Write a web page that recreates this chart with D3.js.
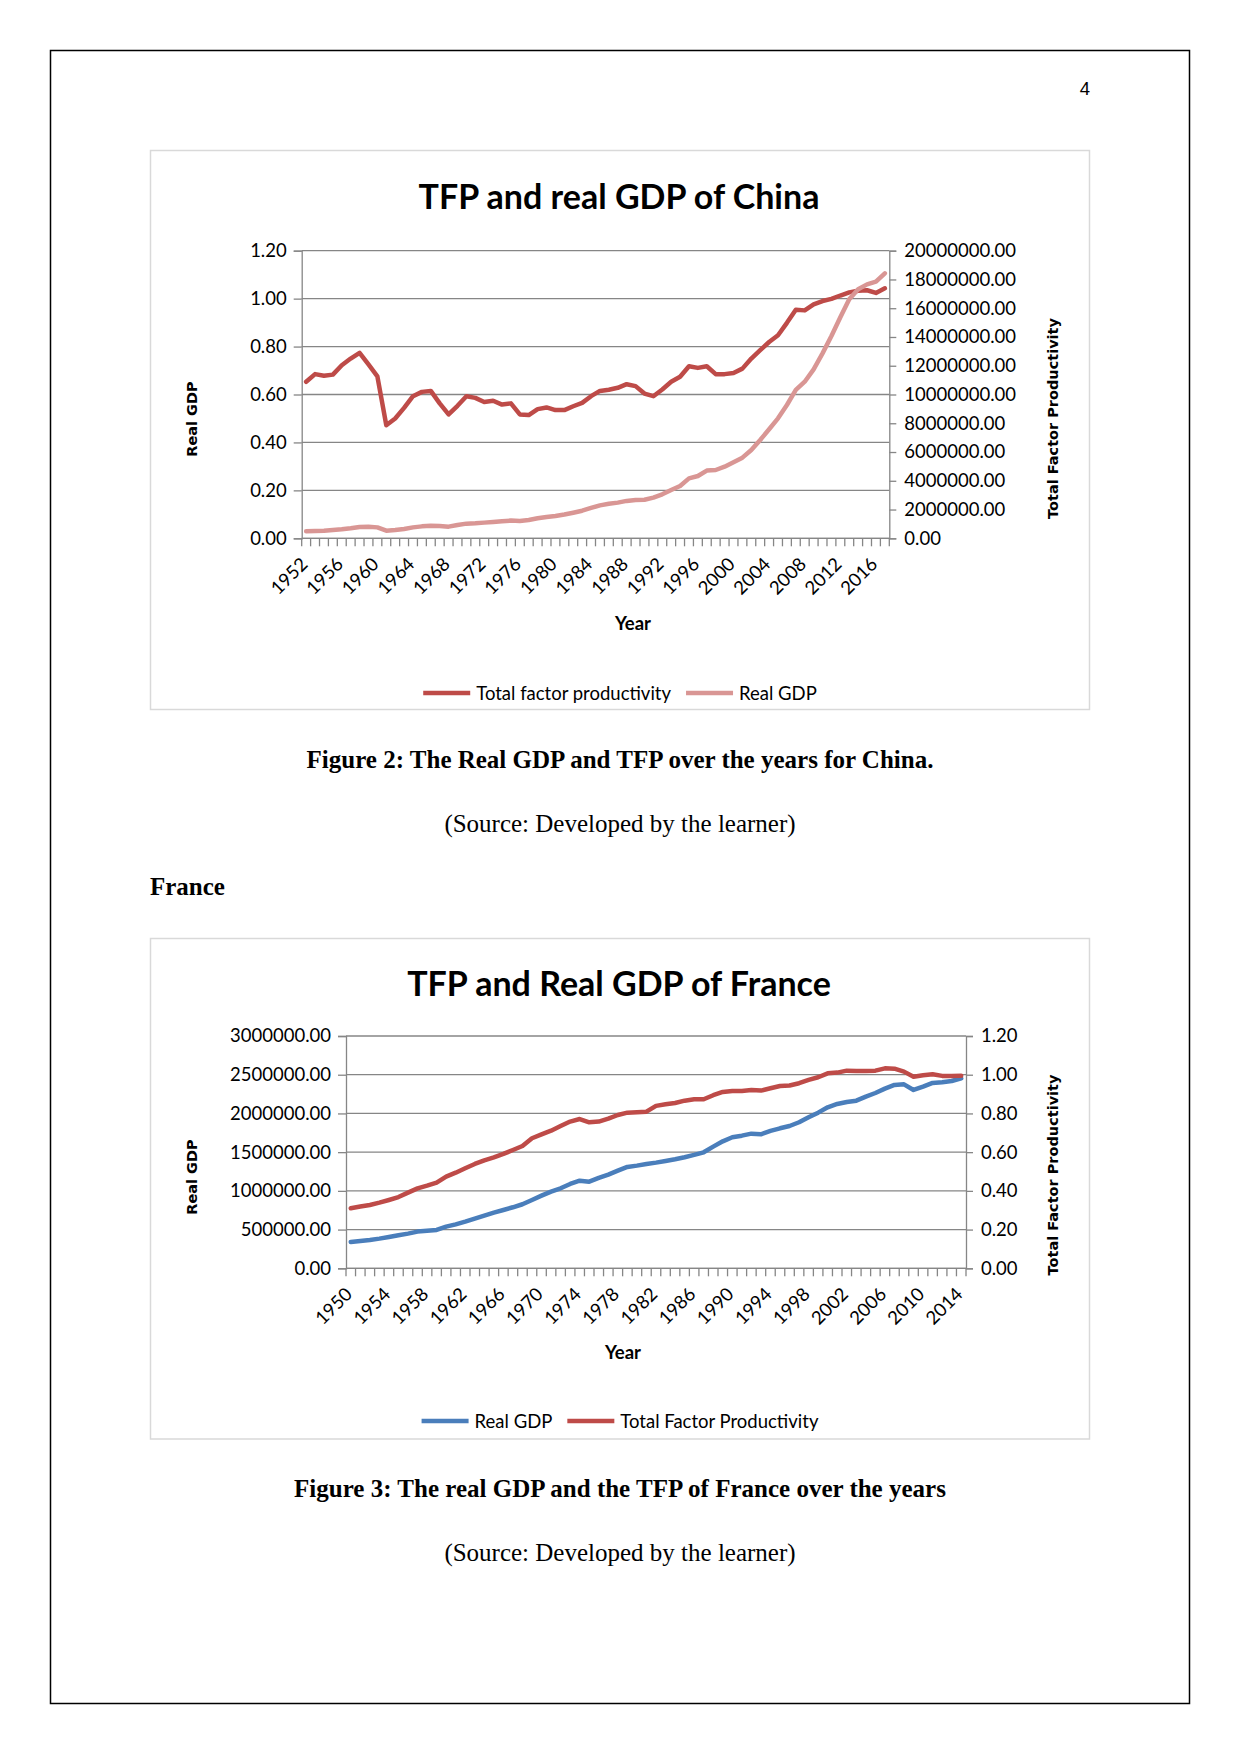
<!DOCTYPE html>
<html>
<head>
<meta charset="utf-8">
<script src="https://cdn.jsdelivr.net/npm/d3@7"></script>
<style>
  html, body { margin: 0; padding: 0; background: #fff; }
  svg { display: block; }
</style>
</head>
<body>
<script>
// ---------------- DATA ----------------
// China, 1952-2017
const chinaYears = d3.range(1952, 2018);
const chinaTFP = [0.653,0.685,0.678,0.683,0.722,0.750,0.774,0.726,0.676,0.472,0.500,0.544,0.593,0.611,0.615,0.563,0.517,0.553,0.593,0.586,0.569,0.574,0.558,0.563,0.517,0.514,0.539,0.546,0.535,0.535,0.551,0.565,0.593,0.615,0.620,0.628,0.643,0.635,0.604,0.593,0.621,0.653,0.674,0.718,0.711,0.718,0.685,0.685,0.690,0.708,0.750,0.785,0.819,0.847,0.899,0.954,0.951,0.976,0.990,0.999,1.013,1.026,1.033,1.035,1.024,1.043];
const chinaGDP = [490000,510000,530000,580000,630000,700000,790000,810000,760000,530000,580000,650000,760000,830000,880000,860000,810000,930000,1020000,1040000,1090000,1140000,1180000,1230000,1210000,1270000,1390000,1480000,1550000,1650000,1780000,1920000,2110000,2290000,2400000,2480000,2600000,2670000,2680000,2830000,3060000,3360000,3640000,4170000,4330000,4710000,4750000,4980000,5290000,5610000,6140000,6840000,7580000,8340000,9270000,10320000,10890000,11750000,12860000,14070000,15370000,16620000,17320000,17660000,17850000,18430000];
const chinaLeftTicks = [0, 0.2, 0.4, 0.6, 0.8, 1.0, 1.2];
const chinaRightTicks = [0,2000000,4000000,6000000,8000000,10000000,12000000,14000000,16000000,18000000,20000000];
const chinaYearLabels = d3.range(1952, 2018, 4);

// France, 1950-2014
const franceYears = d3.range(1950, 2015);
const franceGDP = [340000,353000,366000,383000,405000,426000,448000,474000,486000,495000,538000,568000,603000,641000,680000,719000,753000,788000,827000,883000,938000,990000,1033000,1089000,1132000,1119000,1167000,1210000,1261000,1309000,1326000,1347000,1365000,1386000,1408000,1434000,1464000,1498000,1571000,1640000,1692000,1713000,1739000,1731000,1774000,1808000,1838000,1886000,1950000,2010000,2079000,2122000,2148000,2165000,2217000,2264000,2320000,2368000,2376000,2303000,2346000,2394000,2402000,2419000,2454000];
const franceTFP = [0.310,0.319,0.327,0.339,0.353,0.368,0.391,0.413,0.427,0.443,0.474,0.494,0.517,0.539,0.558,0.573,0.591,0.611,0.632,0.672,0.692,0.711,0.735,0.758,0.771,0.754,0.758,0.773,0.792,0.804,0.806,0.809,0.839,0.847,0.854,0.866,0.873,0.873,0.894,0.911,0.916,0.916,0.921,0.918,0.930,0.942,0.944,0.956,0.973,0.987,1.007,1.011,1.021,1.019,1.019,1.021,1.033,1.031,1.016,0.990,0.997,1.002,0.994,0.994,0.995];
const franceLeftTicks = [0,500000,1000000,1500000,2000000,2500000,3000000];
const franceRightTicks = [0, 0.2, 0.4, 0.6, 0.8, 1.0, 1.2];
const franceYearLabels = d3.range(1950, 2015, 4);

// ---------------- STYLE ----------------
const W = 1241, H = 1754;
const GRID = "#868686";
const RED = "#BE4B48", PINK = "#D99694", BLUE = "#4A7EBB";
const LATO = "Lato, 'Open Sans', sans-serif";
const DJV = "'DejaVu Sans', sans-serif";
const SERIF = "'Liberation Serif', 'Times New Roman', serif";

const svg = d3.select("body").append("svg")
  .attr("width", W).attr("height", H)
  .attr("viewBox", `0 0 ${W} ${H}`);

// page frame
svg.append("rect").attr("x", 50.5).attr("y", 50.5).attr("width", 1139).attr("height", 1653)
  .attr("fill", "none").attr("stroke", "#000").attr("stroke-width", 1.5);
svg.append("text").attr("x", 1090).attr("y", 95).attr("text-anchor", "end")
  .attr("font-family", "'Liberation Sans', Arial, sans-serif").attr("font-size", 18.5).text("4");

function drawChart(cfg) {
  const g = svg.append("g");
  // chart frame
  g.append("rect").attr("x", cfg.box[0]).attr("y", cfg.box[1]).attr("width", cfg.box[2]).attr("height", cfg.box[3])
    .attr("fill", "#fff").attr("stroke", "#d9d9d9").attr("stroke-width", 1.5);

  const x = d3.scaleBand().domain(cfg.years).range([cfg.left, cfg.right]).padding(0);
  const yL = d3.scaleLinear().domain(cfg.leftDomain).range([cfg.bottom, cfg.top]);
  const yR = d3.scaleLinear().domain(cfg.rightDomain).range([cfg.bottom, cfg.top]);
  const cx = d => x(d) + x.bandwidth() / 2;

  // title
  g.append("text").attr("x", 619).attr("y", cfg.titleY).attr("text-anchor", "middle")
    .attr("font-family", LATO).attr("font-weight", "bold").attr("font-size", 34).text(cfg.title);

  // gridlines (left axis)
  g.append("g").selectAll("line").data(cfg.leftTicks).join("line")
    .attr("x1", cfg.left).attr("x2", cfg.right)
    .attr("y1", d => yL(d)).attr("y2", d => yL(d))
    .attr("stroke", GRID).attr("stroke-width", 1.3);

  // left axis
  const la = g.append("g").attr("transform", `translate(${cfg.left},0)`)
    .call(d3.axisLeft(yL).tickValues(cfg.leftTicks).tickFormat(d => d.toFixed(2)).tickSize(8).tickPadding(7));
  // right axis
  const ra = g.append("g").attr("transform", `translate(${cfg.right},0)`)
    .call(d3.axisRight(yR).tickValues(cfg.rightTicks).tickFormat(d => d.toFixed(2)).tickSize(7).tickPadding(8));
  [la, ra].forEach(a => {
    a.select(".domain").attr("stroke", GRID).attr("stroke-width", 1.3);
    a.selectAll(".tick line").attr("stroke", GRID).attr("stroke-width", 1.3);
    a.selectAll(".tick text").attr("font-family", LATO).attr("font-size", 18.5).attr("fill", "#000");
  });

  // bottom axis: line + ticks at category boundaries
  g.append("line").attr("x1", cfg.left).attr("x2", cfg.right).attr("y1", cfg.bottom).attr("y2", cfg.bottom)
    .attr("stroke", GRID).attr("stroke-width", 1.3);
  const bounds = cfg.years.map(d => x(d)).concat([x(cfg.years[cfg.years.length - 1]) + x.bandwidth()]);
  g.append("g").selectAll("line").data(bounds).join("line")
    .attr("x1", d => d).attr("x2", d => d).attr("y1", cfg.bottom).attr("y2", cfg.bottom + 8)
    .attr("stroke", GRID).attr("stroke-width", 1.3);
  g.append("g").selectAll("text").data(cfg.yearLabels).join("text")
    .attr("transform", d => `translate(${cx(d) - 2},${cfg.bottom + 22.5}) rotate(-45)`)
    .attr("text-anchor", "end").attr("dy", "0.35em")
    .attr("font-family", LATO).attr("font-size", 18.5).text(d => d);

  // axis titles
  g.append("text").attr("x", cfg.yearX).attr("y", cfg.yearY).attr("text-anchor", "middle")
    .attr("font-family", LATO).attr("font-weight", "bold").attr("font-size", 18.5).text("Year");
  g.append("text").attr("transform", `translate(197,${cfg.leftTitleY}) rotate(-90)`).attr("text-anchor", "middle")
    .attr("font-family", DJV).attr("font-weight", "bold").attr("font-size", 14.5).text("Real GDP");
  g.append("text").attr("transform", `translate(1058,${cfg.rightTitleY}) rotate(-90)`).attr("text-anchor", "middle")
    .attr("font-family", DJV).attr("font-weight", "bold").attr("font-size", 14.5).text("Total Factor Productivity");

  // series
  cfg.series.forEach(s => {
    const sc = s.axis === "left" ? yL : yR;
    const line = d3.line().x((d, i) => cx(cfg.years[i])).y(d => sc(d));
    g.append("path").datum(s.values).attr("d", line)
      .attr("fill", "none").attr("stroke", s.color).attr("stroke-width", 4.5)
      .attr("stroke-linejoin", "round").attr("stroke-linecap", "round");
  });

  // legend (centered)
  const lg = g.append("g");
  let xpos = 0;
  cfg.series.forEach(s => {
    const it = lg.append("g").attr("transform", `translate(${xpos},0)`);
    it.append("line").attr("x1", 0).attr("x2", 47).attr("y1", 0).attr("y2", 0)
      .attr("stroke", s.color).attr("stroke-width", 4.5);
    const t = it.append("text").attr("x", 53).attr("y", 6.5).attr("font-family", LATO).attr("font-size", 18.5).text(s.name);
    const w = t.node().getComputedTextLength();
    xpos += 53 + w + 15;
  });
  const totalW = xpos - 15;
  lg.attr("transform", `translate(${620 - totalW / 2},${cfg.legendY})`);
}

drawChart({
  box: [150.5, 150.5, 939, 559],
  left: 301.7, right: 889.3, top: 250.7, bottom: 538.3,
  years: chinaYears,
  leftDomain: [0, 1.2], rightDomain: [0, 20000000],
  leftTicks: chinaLeftTicks, rightTicks: chinaRightTicks,
  yearLabels: chinaYearLabels,
  title: "TFP and real GDP of China", titleY: 209,
  yearX: 633, yearY: 630,
  leftTitleY: 419, rightTitleY: 418.5,
  legendY: 693,
  series: [
    { name: "Total factor productivity", values: chinaTFP, axis: "left", color: RED },
    { name: "Real GDP", values: chinaGDP, axis: "right", color: PINK }
  ]
});

drawChart({
  box: [150.5, 938.5, 939, 500.5],
  left: 346, right: 966, top: 1036, bottom: 1268.3,
  years: franceYears,
  leftDomain: [0, 3000000], rightDomain: [0, 1.2],
  leftTicks: franceLeftTicks, rightTicks: franceRightTicks,
  yearLabels: franceYearLabels,
  title: "TFP and Real GDP of France", titleY: 996,
  yearX: 623, yearY: 1359,
  leftTitleY: 1177, rightTitleY: 1175,
  legendY: 1421,
  series: [
    { name: "Real GDP", values: franceGDP, axis: "left", color: BLUE },
    { name: "Total Factor Productivity", values: franceTFP, axis: "right", color: RED }
  ]
});

// captions
const cap = (txt, y, bold, x, anchor) => svg.append("text").attr("x", x || 620).attr("y", y)
  .attr("text-anchor", anchor || "middle").attr("font-family", SERIF).attr("font-size", 25)
  .attr("font-weight", bold ? "bold" : "normal").text(txt);
cap("Figure 2: The Real GDP and TFP over the years for China.", 768, true);
cap("(Source: Developed by the learner)", 832, false);
cap("France", 895, true, 150, "start");
cap("Figure 3: The real GDP and the TFP of France over the years", 1497, true);
cap("(Source: Developed by the learner)", 1561, false);
</script>
</body>
</html>
